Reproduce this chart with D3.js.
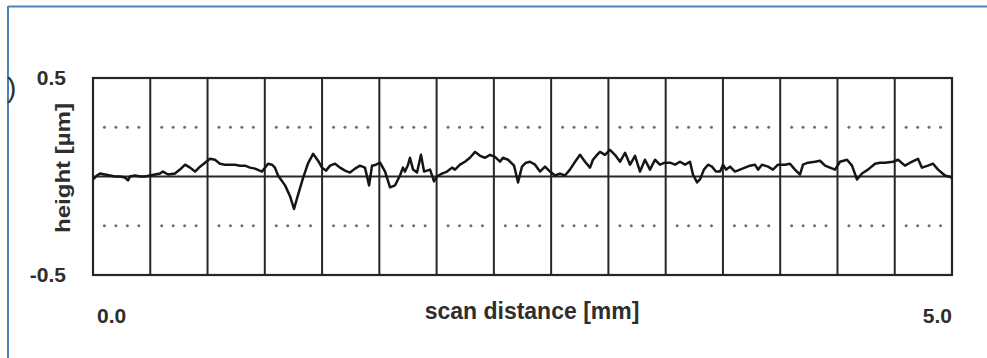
<!DOCTYPE html>
<html>
<head>
<meta charset="utf-8">
<script src="https://cdn.jsdelivr.net/npm/d3@7"></script>
<style>
  html, body { margin: 0; padding: 0; background: #fff; }
  svg { display: block; }
  text { font-family: "Liberation Sans", Arial, sans-serif; font-weight: bold; fill: #2e2e2e; }
</style>
</head>
<body>
<svg id="chart" width="987" height="358"></svg>
<script>
// ---- data ----
const xDomain = [0, 5];
const yDomain = [-0.5, 0.5];
const xTickValues = [0, 5];
const xTickLabels = ["0.0", "5.0"];
const yTickValues = [0.5, -0.5];
const yTickLabels = ["0.5", "-0.5"];
const gridDivisions = 15;
const dottedLevels = [0.25, -0.25];
const dotFractions = [0.2, 0.4, 0.6, 0.8];
const xTitle = "scan distance [mm]";
const yTitle = "height [µm]";

const scanX = [0,0.023,0.041,0.070,0.099,0.128,0.157,0.186,0.204,0.215,0.244,0.274,0.303,0.332,0.361,0.390,0.407,0.437,0.477,0.506,0.536,0.565,0.594,0.623,0.652,0.681,0.710,0.739,0.768,0.797,0.827,0.856,0.885,0.914,0.943,0.984,1.019,1.042,1.059,1.077,1.118,1.147,1.170,1.193,1.222,1.251,1.281,1.310,1.333,1.356,1.380,1.409,1.438,1.467,1.496,1.525,1.554,1.583,1.607,1.624,1.647,1.671,1.700,1.729,1.758,1.787,1.804,1.816,1.834,1.845,1.863,1.886,1.909,1.927,1.962,1.985,2.002,2.031,2.061,2.090,2.107,2.136,2.165,2.194,2.224,2.253,2.282,2.311,2.340,2.369,2.386,2.416,2.451,2.474,2.497,2.520,2.544,2.573,2.602,2.631,2.660,2.689,2.718,2.747,2.776,2.806,2.835,2.864,2.893,2.910,2.934,2.951,2.980,3.009,3.038,3.068,3.097,3.126,3.155,3.184,3.213,3.242,3.271,3.300,3.329,3.359,3.388,3.417,3.446,3.475,3.492,3.516,3.533,3.556,3.580,3.603,3.626,3.650,3.667,3.685,3.708,3.737,3.766,3.795,3.824,3.853,3.871,3.894,3.929,3.958,3.987,4.028,4.057,4.086,4.115,4.133,4.162,4.202,4.232,4.261,4.290,4.319,4.348,4.389,4.418,4.447,4.476,4.511,4.552,4.581,4.610,4.657,4.686,4.726,4.756,4.802,4.825,4.860,4.889,4.919,4.959,5.0];

const heightY = [-0.015,0.005,0.015,0.01,0.005,0,0,-0.005,-0.02,0,0.005,0,0,0.005,0.01,0.015,0.025,0.01,0.015,0.035,0.06,0.045,0.025,0.05,0.07,0.09,0.085,0.065,0.06,0.06,0.06,0.055,0.055,0.045,0.04,0.025,0.065,0.06,0.045,0.005,-0.045,-0.1,-0.165,-0.095,-0.01,0.065,0.115,0.08,0.045,0.03,0.055,0.065,0.045,0.03,0.02,0.04,0.055,0.045,-0.045,0.055,0.06,0.07,0.025,-0.055,-0.045,0.005,0.045,0.025,0.06,0.095,0.035,0.02,0.11,0.025,0.035,-0.025,0,0.015,0.025,0.045,0.035,0.06,0.075,0.095,0.125,0.105,0.095,0.11,0.1,0.075,0.095,0.085,0.055,-0.03,0.05,0.07,0.075,0.06,0.025,0.05,0.025,0.005,0.015,0.005,0.035,0.075,0.11,0.075,0.045,0.085,0.11,0.125,0.11,0.135,0.11,0.075,0.12,0.06,0.105,0.025,0.085,0.035,0.085,0.06,0.07,0.07,0.06,0.075,0.06,0.075,0.01,-0.03,-0.015,0.035,0.06,0.05,0.025,0.025,0.06,0.035,0.05,0.025,0.035,0.045,0.055,0.06,0.035,0.06,0.05,0.035,0.06,0.06,0.065,0.035,0.01,0.06,0.07,0.075,0.08,0.055,0.045,0.035,0.075,0.085,0.055,-0.015,0.015,0.035,0.065,0.07,0.07,0.075,0.085,0.055,0.07,0.09,0.045,0.055,0.065,0.035,0.005,-0.005];

// ---- layout ----
const svg = d3.select("#chart");
const plot = { left: 93, right: 952, top: 78, bottom: 275 };
const x = d3.scaleLinear().domain(xDomain).range([plot.left, plot.right]);
const y = d3.scaleLinear().domain(yDomain).range([plot.bottom, plot.top]);
const ink = "#262626";

// outer blue frame (top & left edges)
svg.append("line").attr("x1", 8).attr("x2", 987).attr("y1", 6.5).attr("y2", 6.5)
  .attr("stroke", "#4f81bd").attr("stroke-width", 2);
svg.append("line").attr("x1", 8).attr("x2", 8).attr("y1", 6).attr("y2", 358)
  .attr("stroke", "#4f81bd").attr("stroke-width", 2);

// partial panel label
svg.append("text").attr("x", 7).attr("y", 97).style("font-size", "28px").style("font-weight", "normal").text(")");

// dotted guide levels
const colWidth = (xDomain[1] - xDomain[0]) / gridDivisions;
const dots = [];
d3.range(gridDivisions).forEach(i => {
  dottedLevels.forEach(lv => {
    dotFractions.forEach(f => dots.push({ xv: xDomain[0] + (i + f) * colWidth, yv: lv }));
  });
});
svg.append("g").selectAll("circle").data(dots).join("circle")
  .attr("cx", d => x(d.xv)).attr("cy", d => y(d.yv)).attr("r", 1.5)
  .attr("fill", "#6f6f6f");

// vertical grid lines
svg.append("g").selectAll("line").data(d3.range(1, gridDivisions)).join("line")
  .attr("x1", i => x(i * colWidth)).attr("x2", i => x(i * colWidth))
  .attr("y1", plot.top).attr("y2", plot.bottom)
  .attr("stroke", ink).attr("stroke-width", 2);

// zero line
svg.append("line").attr("x1", x(xDomain[0])).attr("x2", x(xDomain[1]))
  .attr("y1", y(0)).attr("y2", y(0)).attr("stroke", ink).attr("stroke-width", 2);

// frame
svg.append("rect").attr("x", plot.left).attr("y", plot.top)
  .attr("width", plot.right - plot.left).attr("height", plot.bottom - plot.top)
  .attr("fill", "none").attr("stroke", ink).attr("stroke-width", 2.2);

// profile line
const pts = scanX.map((v, i) => [v, heightY[i]]);
svg.append("path").datum(pts)
  .attr("d", d3.line().x(d => x(d[0])).y(d => y(d[1])))
  .attr("fill", "none").attr("stroke", "#151515").attr("stroke-width", 2.5)
  .attr("stroke-linejoin", "round");

// y tick labels
svg.append("g").selectAll("text").data(yTickValues).join("text")
  .attr("x", 66).attr("y", d => y(d) + 7)
  .attr("text-anchor", "end").style("font-size", "21px")
  .text((d, i) => yTickLabels[i]);

// x tick labels
svg.append("g").selectAll("text").data(xTickValues).join("text")
  .attr("x", (d, i) => i === 0 ? x(d) + 4 : x(d))
  .attr("y", 323)
  .attr("text-anchor", (d, i) => i === 0 ? "start" : "end")
  .style("font-size", "21px")
  .text((d, i) => xTickLabels[i]);

// axis titles
svg.append("text").attr("x", 532).attr("y", 319).attr("text-anchor", "middle")
  .style("font-size", "23px").text(xTitle);
svg.append("text").attr("transform", "translate(70,168) rotate(-90)")
  .attr("text-anchor", "middle").style("font-size", "20px")
  .attr("textLength", 130).attr("lengthAdjust", "spacingAndGlyphs")
  .text(yTitle);
</script>
</body>
</html>
